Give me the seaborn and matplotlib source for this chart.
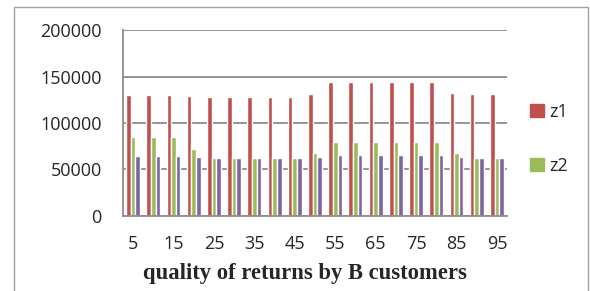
import pandas as pd
import seaborn as sns
import matplotlib.pyplot as plt
from matplotlib.patches import Rectangle, Patch

# quality of returns (x categories)
quality = [5, 10, 15, 20, 25, 30, 35, 40, 45, 50, 55, 60, 65, 70, 75, 80, 85, 90, 95]
tick_text = ["5", "", "15", "", "25", "", "35", "", "45", "", "55", "", "65", "", "75", "", "85", "", "95"]

z1 = [129700, 129700, 129700, 129000, 128000, 128000, 128000, 128000, 128000, 130800,
      143800, 143800, 143800, 143800, 143800, 143800, 132500, 130800, 130800]
z2 = [84500, 84500, 84500, 71500, 62200, 62200, 62200, 62200, 62200, 67200,
      79400, 79400, 79400, 79400, 79400, 79400, 67200, 61800, 61800]
z3 = [64700, 64700, 64700, 63300, 62500, 62500, 62500, 62500, 62500, 62900,
      65400, 65400, 65400, 65400, 65400, 65400, 62900, 62500, 62500]

colors = ["#C0504D", "#9BBB59", "#8064A2"]

df = pd.DataFrame({"quality": quality, "z1": z1, "z2": z2, "z3": z3})
long = df.melt(id_vars="quality", var_name="series", value_name="value")

sns.set_style("white")
plt.rcParams["font.family"] = ["Open Sans", "DejaVu Sans"]

fig = plt.figure(figsize=(5.9, 2.91), dpi=100)
ax = fig.add_axes([123 / 590, 1 - 215.7 / 291, 384 / 590, 185.4 / 291])

sns.barplot(data=long, x="quality", y="value", hue="series", palette=colors,
            width=0.69, gap=0, legend=False, ax=ax, saturation=1)

ax.set_ylim(0, 200000)
ax.set_yticks([0, 50000, 100000, 150000, 200000])
ax.set_yticklabels(["0", "50000", "100000", "150000", "200000"])
ax.set_xticks(range(len(quality)))
ax.set_xticklabels(tick_text)
ax.set_xlim(-0.5, len(quality) - 0.5)
ax.yaxis.grid(True, color="#8c8c8c", linewidth=1.3)
ax.set_axisbelow(True)
for s in ["top", "right"]:
    ax.spines[s].set_visible(False)
ax.spines["left"].set_color("#8c8c8c")
ax.spines["bottom"].set_color("#8c8c8c")
ax.spines["left"].set_linewidth(1.3)
ax.spines["bottom"].set_linewidth(1.3)
ax.tick_params(axis="y", length=4.3, width=1.3, color="#8c8c8c", pad=11, labelsize=13)
ax.tick_params(axis="x", length=0, pad=14, labelsize=13)

ax.set_ylabel("")
ax.set_xlabel("quality of returns by B customers", family="Liberation Serif",
              fontweight="bold", fontsize=16.3)
ax.xaxis.set_label_coords(0.474, -0.255)

handles = [Patch(color=colors[0], label="z1"), Patch(color=colors[1], label="z2")]
fig.legend(handles=handles, loc="upper left", bbox_to_anchor=(521 / 590, 1 - 94 / 291),
           frameon=False, fontsize=13, borderpad=0, labelspacing=2.0,
           handlelength=0.75, handleheight=0.75, handletextpad=0.3)

fig.patches.append(Rectangle((14 / 590, -0.1), 574 / 590, 1.1 - 7 / 291,
                             transform=fig.transFigure, fill=False,
                             edgecolor="#a0a0a0", linewidth=1))

fig.savefig("out.png", dpi=100)
